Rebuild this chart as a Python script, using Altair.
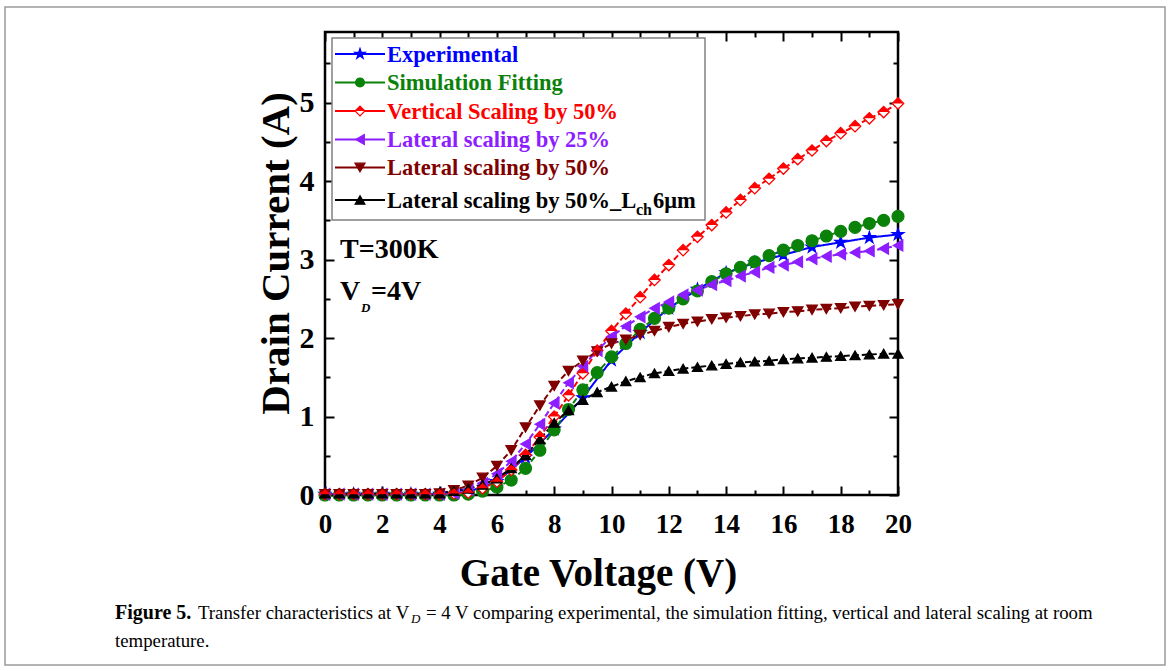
import altair as alt
import pandas as pd

FONT = "Liberation Serif"

# ---------------- data ----------------
V_SIM = [0.0, 0.5, 1.0, 1.5, 2.0, 2.5, 3.0, 3.5, 4.0, 4.5, 5.0, 5.5, 6.0, 6.5, 7.0, 7.5,
         8.0, 8.5, 9.0, 9.5, 10.0, 10.5, 11.0, 11.5, 12.0, 12.5, 13.0, 13.5, 14.0, 14.5,
         15.0, 15.5, 16.0, 16.5, 17.0, 17.5, 18.0, 18.5, 19.0, 19.5, 20.0]
V_EXP = [0, 1, 2, 3, 4, 5, 6, 7, 8, 9, 10, 11, 12, 13, 14, 15, 16, 17, 18, 19, 20]

I_EXP = [0.01, 0.01, 0.01, 0.01, 0.01, 0.04, 0.17, 0.48, 0.84, 1.24, 1.72, 2.07, 2.38,
         2.62, 2.83, 2.96, 3.06, 3.16, 3.22, 3.28, 3.32]
I_SIM = [0.0, 0.0, 0.0, 0.0, 0.0, 0.0, 0.0, 0.0, 0.0, 0.0, 0.01, 0.05, 0.10, 0.19, 0.34,
         0.57, 0.83, 1.09, 1.34, 1.56, 1.76, 1.93, 2.11, 2.25, 2.38, 2.50, 2.60, 2.72, 2.82,
         2.90, 2.97, 3.05, 3.12, 3.18, 3.24, 3.30, 3.36, 3.41, 3.46, 3.50, 3.55]
I_VERT50 = [0.01, 0.01, 0.01, 0.01, 0.01, 0.01, 0.01, 0.01, 0.01, 0.02, 0.03, 0.085, 0.17,
            0.32, 0.51, 0.74, 1.00, 1.27, 1.55, 1.84, 2.09, 2.31, 2.52, 2.74, 2.93, 3.12,
            3.29, 3.44, 3.60, 3.76, 3.91, 4.03, 4.16, 4.28, 4.39, 4.51, 4.61, 4.70, 4.80,
            4.88, 4.99]
I_LAT25 = [0.01, 0.01, 0.01, 0.01, 0.01, 0.01, 0.01, 0.01, 0.01, 0.02, 0.07, 0.15, 0.27,
           0.43, 0.65, 0.90, 1.17, 1.43, 1.64, 1.84, 2.02, 2.15, 2.27, 2.38, 2.46, 2.55,
           2.61, 2.68, 2.73, 2.79, 2.84, 2.90, 2.93, 2.97, 3.01, 3.04, 3.07, 3.09, 3.11,
           3.14, 3.18]
I_LAT50 = [0.01, 0.01, 0.01, 0.01, 0.01, 0.01, 0.01, 0.01, 0.02, 0.06, 0.12, 0.22, 0.37,
           0.57, 0.86, 1.14, 1.39, 1.58, 1.71, 1.83, 1.93, 1.98, 2.04, 2.09, 2.14, 2.18,
           2.21, 2.24, 2.26, 2.28, 2.30, 2.31, 2.33, 2.34, 2.36, 2.37, 2.38, 2.40, 2.41,
           2.42, 2.43]
I_LAT50_6UM = [0.02, 0.02, 0.02, 0.02, 0.02, 0.02, 0.02, 0.02, 0.02, 0.05, 0.08, 0.13, 0.21,
               0.34, 0.51, 0.71, 0.92, 1.08, 1.21, 1.31, 1.38, 1.45, 1.50, 1.55, 1.58, 1.61,
               1.63, 1.65, 1.67, 1.69, 1.70, 1.71, 1.73, 1.74, 1.75, 1.76, 1.77, 1.78, 1.79,
               1.80, 1.80]

SERIES = ["Experimental", "Simulation Fitting", "Vertical Scaling by 50%",
          "Lateral scaling by 25%", "Lateral scaling by 50%", "Lateral scaling by 50%_Lch6μm"]
SERIES_X = [V_EXP, V_SIM, V_SIM, V_SIM, V_SIM, V_SIM]
SERIES_Y = [I_EXP, I_SIM, I_VERT50, I_LAT25, I_LAT50, I_LAT50_6UM]

X_MAJOR = [0, 2, 4, 6, 8, 10, 12, 14, 16, 18, 20]
X_MINOR = [1, 3, 5, 7, 9, 11, 13, 15, 17, 19]
Y_MAJOR = [0, 1, 2, 3, 4, 5]
Y_MINOR = [0.5, 1.5, 2.5, 3.5, 4.5, 5.5]

# ---------------- styles ----------------
STAR = ("M0,-1L0.2245,-0.309L0.951,-0.309L0.363,0.118L0.588,0.809L0,0.382"
        "L-0.588,0.809L-0.363,0.118L-0.951,-0.309L-0.2245,-0.309Z")
HALF_DIAMOND = "M-1,0L0,-1L1,0Z"
COLORS = ["#0000ff", "#0a820a", "#ff0000", "#8c1eff", "#800000", "#000000"]
FILLS = ["#0000ff", "#0a820a", "#ffffff", "#8c1eff", "#800000", "#000000"]
SHAPES = [STAR, "circle", "diamond", "triangle-left", "triangle-down", "triangle-up"]
SIZES = [150, 100, 120, 125, 125, 120]
DASHES = [[1, 0], [6, 3], [6, 3], [6, 3], [6, 3], [6, 3]]

rows = []
for name, xs_, ys_ in zip(SERIES, SERIES_X, SERIES_Y):
    for v, i in zip(xs_, ys_):
        rows.append({"series": name, "V": v, "I": i})
df = pd.DataFrame(rows)

W, H = 573, 463
PAD_L, PAD_T = 325, 32

xs = alt.Scale(domain=[0, 20], nice=False, zero=False)
ys = alt.Scale(domain=[0, 5.9], nice=False, zero=False)


def tick_axis(orient, offset, values, size):
    return alt.Axis(orient=orient, offset=offset, values=values, labels=False, domain=False,
                    grid=False, ticks=True, tickSize=size, tickWidth=2, tickColor="black",
                    title="")


x_lab = alt.Axis(orient="bottom", values=X_MAJOR, ticks=False, tickSize=0, domain=False,
                 grid=False, labelFont=FONT, labelFontSize=27, labelFontWeight="bold",
                 labelColor="black", labelPadding=16, labelFlush=False, labelOverlap=False,
                 title="Gate Voltage (V)", titleFont=FONT, titleFontSize=39,
                 titleFontWeight="bold", titleColor="black", titleX=273, titleY=90,
                 titleBaseline="alphabetic", titleAlign="center")
y_lab = alt.Axis(orient="left", values=Y_MAJOR, ticks=False, tickSize=0, domain=False,
                 grid=False, labelFont=FONT, labelFontSize=30, labelFontWeight="bold",
                 labelColor="black", labelPadding=11, labelFlush=False, labelOverlap=False,
                 title="Drain Current (A)", titleFont=FONT, titleFontSize=41,
                 titleFontWeight="bold", titleColor="black", titleX=-37, titleY=221,
                 titleAngle=270, titleBaseline="alphabetic", titleAlign="center")

lines = alt.Chart(df).mark_line(strokeWidth=2).encode(
    x=alt.X("V:Q", scale=xs, axis=x_lab),
    y=alt.Y("I:Q", scale=ys, axis=y_lab),
    color=alt.Color("series:N", scale=alt.Scale(domain=SERIES, range=COLORS), legend=None),
    strokeDash=alt.StrokeDash("series:N", scale=alt.Scale(domain=SERIES, range=DASHES),
                              legend=None),
)

points = alt.Chart(df).mark_point(filled=True, opacity=1, strokeWidth=1.3).encode(
    x=alt.X("V:Q", scale=xs, axis=tick_axis("top", -H, X_MAJOR, 9)),
    y=alt.Y("I:Q", scale=ys, axis=tick_axis("right", -W, Y_MAJOR, 9)),
    shape=alt.Shape("series:N", scale=alt.Scale(domain=SERIES, range=SHAPES), legend=None),
    fill=alt.Fill("series:N", scale=alt.Scale(domain=SERIES, range=FILLS), legend=None),
    stroke=alt.Stroke("series:N", scale=alt.Scale(domain=SERIES, range=COLORS), legend=None),
    size=alt.Size("series:N", scale=alt.Scale(domain=SERIES, range=SIZES), legend=None),
)

# half-filled look of the "Vertical Scaling" diamonds
half = alt.Chart(df).transform_filter(
    alt.datum.series == SERIES[2]
).mark_point(shape=HALF_DIAMOND, filled=True, fill=COLORS[2], strokeWidth=0,
             size=SIZES[2], opacity=1).encode(
    x=alt.X("V:Q", scale=xs, axis=None),
    y=alt.Y("I:Q", scale=ys, axis=None),
)


def ghost(xaxis, yaxis):
    return alt.Chart(df).mark_point(opacity=0).encode(
        x=alt.X("V:Q", scale=xs, axis=xaxis),
        y=alt.Y("I:Q", scale=ys, axis=yaxis),
    )


g3 = ghost(tick_axis("top", -H, X_MINOR, 5), tick_axis("right", -W, Y_MINOR, 5))
g4 = ghost(tick_axis("bottom", -H, X_MAJOR, 9), tick_axis("left", -W, Y_MAJOR, 9))
g5 = ghost(tick_axis("bottom", -H, X_MINOR, 5), tick_axis("left", -W, Y_MINOR, 5))

ONE = alt.Data(values=[{"a": 1}])


def vtext(txt, x, y, size, color="black", weight="bold", style="normal"):
    return alt.Chart(ONE).mark_text(
        text=txt, font=FONT, fontSize=size, fontWeight=weight, fontStyle=style,
        color=color, align="left", baseline="alphabetic",
    ).encode(x=alt.value(x), y=alt.value(y))


def vrect(x0, x1, y0, y1, stroke, sw, fill):
    return alt.Chart(ONE).mark_rect(stroke=stroke, strokeWidth=sw, fill=fill).encode(
        x=alt.value(x0), x2=alt.value(x1), y=alt.value(y0), y2=alt.value(y1))


layers = []
# outer figure frame
layers.append(vrect(-320, 840, -25, 633, "#9a9a9a", 1.5, "transparent"))
layers += [lines, points, half, g3, g4, g5]

# legend
layers.append(vrect(7, 380, 6, 188, "#808080", 1.5, "#ffffff"))
LEG_Y = [22, 50.5, 79, 107.5, 135.5, 168]
LEG_FS = 22.5
for k, name in enumerate(SERIES):
    yv = LEG_Y[k]
    layers.append(alt.Chart(ONE).mark_rule(color=COLORS[k], strokeWidth=2).encode(
        x=alt.value(10), x2=alt.value(60), y=alt.value(yv)))
    layers.append(alt.Chart(ONE).mark_point(
        shape=SHAPES[k], filled=True, fill=FILLS[k], stroke=COLORS[k], strokeWidth=1.2,
        size=SIZES[k] * 0.8, opacity=1).encode(x=alt.value(35), y=alt.value(yv)))
    if k == 2:
        layers.append(alt.Chart(ONE).mark_point(
            shape=HALF_DIAMOND, filled=True, fill=COLORS[k], strokeWidth=0,
            size=SIZES[k] * 0.8, opacity=1).encode(x=alt.value(35), y=alt.value(yv)))
    if k < 5:
        layers.append(vtext(name, 62, yv + 7.5, LEG_FS, COLORS[k]))
layers.append(vtext("Lateral scaling by 50%_L", 62, LEG_Y[5] + 7.5, LEG_FS, COLORS[5]))
layers.append(vtext("ch", 311, LEG_Y[5] + 14.5, 16, COLORS[5]))
layers.append(vtext("6μm", 328, LEG_Y[5] + 7.5, LEG_FS, COLORS[5]))

# annotations
layers.append(vtext("T=300K", 15, 226, 28))
layers.append(vtext("V", 15, 268, 28))
layers.append(vtext("D", 36, 280, 13, style="italic"))
layers.append(vtext("=4V", 46, 268, 28))

# caption
layers.append(vtext("Figure 5.", -210, 587, 20))
layers.append(vtext("Transfer characteristics at V", -127, 587, 18.8, weight="normal"))
layers.append(vtext("D", 86, 591, 13, weight="normal", style="italic"))
layers.append(vtext("= 4 V comparing experimental, the simulation fitting, vertical and lateral "
                    "scaling at room", 101, 587, 18.8, weight="normal"))
layers.append(vtext("temperature.", -210, 615, 18.8, weight="normal"))

chart = alt.layer(*layers).resolve_axis(x="independent", y="independent").properties(
    width=W, height=H,
    padding={"left": PAD_L, "top": PAD_T, "right": 1171 - PAD_L - W, "bottom": 671 - PAD_T - H},
    autosize=alt.AutoSizeParams(type="none"),
    background="white",
).configure_view(stroke="black", strokeWidth=2.5)

chart.save("out.html", embed_options={"renderer": "svg", "actions": False})
